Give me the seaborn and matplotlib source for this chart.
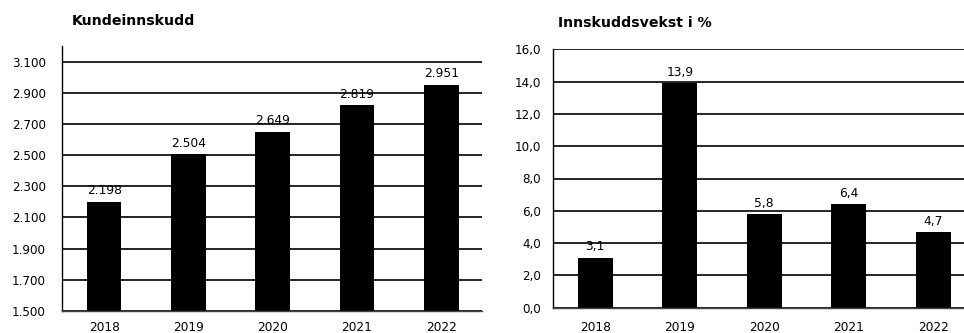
import matplotlib
matplotlib.use("Agg")
import matplotlib.pyplot as plt
import seaborn as sns

# Customer deposits (NOK million) and deposit growth in percent
years = ["2018", "2019", "2020", "2021", "2022"]
deposits = [2198, 2504, 2649, 2819, 2951]
growth = [3.1, 13.9, 5.8, 6.4, 4.7]

deposit_ticks = [1500, 1700, 1900, 2100, 2300, 2500, 2700, 2900, 3100]
growth_ticks = [0, 2, 4, 6, 8, 10, 12, 14, 16]

sns.set_theme(style="white")
plt.rcParams["font.family"] = ["DejaVu Sans"]

W, H = 964, 333
fig = plt.figure(figsize=(W / 100, H / 100), dpi=100)
fig.patch.set_facecolor("white")


def fmt_thousands(v):
    return f"{int(round(v)):,}".replace(",", ".")


def fmt_decimal(v):
    return f"{v:.1f}".replace(".", ",")


def style_axis(ax, ticks, ylim, xlim, fmt, ypad, xpad):
    ax.set_ylim(*ylim)
    ax.set_xlim(*xlim)
    ax.set_yticks(ticks)
    ax.set_yticklabels([fmt(t) for t in ticks])
    for t in ticks:
        ax.axhline(t, color="black", lw=1.2, zorder=1)
    ax.tick_params(axis="y", length=0, pad=ypad, labelsize=8.6, colors="black")
    ax.tick_params(axis="x", length=0, pad=xpad, labelsize=8.7, colors="black")
    ax.set_xlabel("")
    ax.set_ylabel("")
    for side in ("top", "right"):
        ax.spines[side].set_visible(False)
    ax.spines["left"].set_color("black")
    ax.spines["left"].set_linewidth(1.0)
    ax.spines["bottom"].set_color("#444444")
    ax.spines["bottom"].set_linewidth(1.0)
    ax.set_facecolor("white")


# Left panel: customer deposits
ax1 = fig.add_axes([62 / W, 1 - 311 / H, 420 / W, (311 - 46) / H])
sns.barplot(x=years, y=deposits, color="black", width=0.41, saturation=1,
            linewidth=0, ax=ax1, zorder=2)
style_axis(ax1, deposit_ticks, (1500, 3200), (-0.5, -0.5 + 420 / 84.3),
           fmt_thousands, ypad=11.5, xpad=7.5)
ax1.bar_label(ax1.containers[0], labels=[fmt_thousands(v) for v in deposits],
              padding=3.4, fontsize=8.8, color="black")

# Right panel: deposit growth in percent
ax2 = fig.add_axes([553 / W, 1 - 307.7 / H, 411 / W, (307.7 - 49.3) / H])
sns.barplot(x=years, y=growth, color="black", width=0.41, saturation=1,
            linewidth=0, ax=ax2, zorder=2)
style_axis(ax2, growth_ticks, (0, 16), (-0.5, -0.5 + 411 / 84.5),
           fmt_decimal, ypad=8.6, xpad=9.3)
ax2.bar_label(ax2.containers[0], labels=[fmt_decimal(v) for v in growth],
              padding=3.0, fontsize=8.8, color="black")
ax2.spines["left"].set_bounds(0, 16)

fig.text(72 / W, 1 - 25 / H, "Kundeinnskudd", fontsize=10.2,
         fontweight="bold", ha="left", va="baseline", color="black")
fig.text(558 / W, 1 - 26.7 / H, "Innskuddsvekst i %", fontsize=10.2,
         fontweight="bold", ha="left", va="baseline", color="black")

fig.savefig("out.png", dpi=100, facecolor="white")
